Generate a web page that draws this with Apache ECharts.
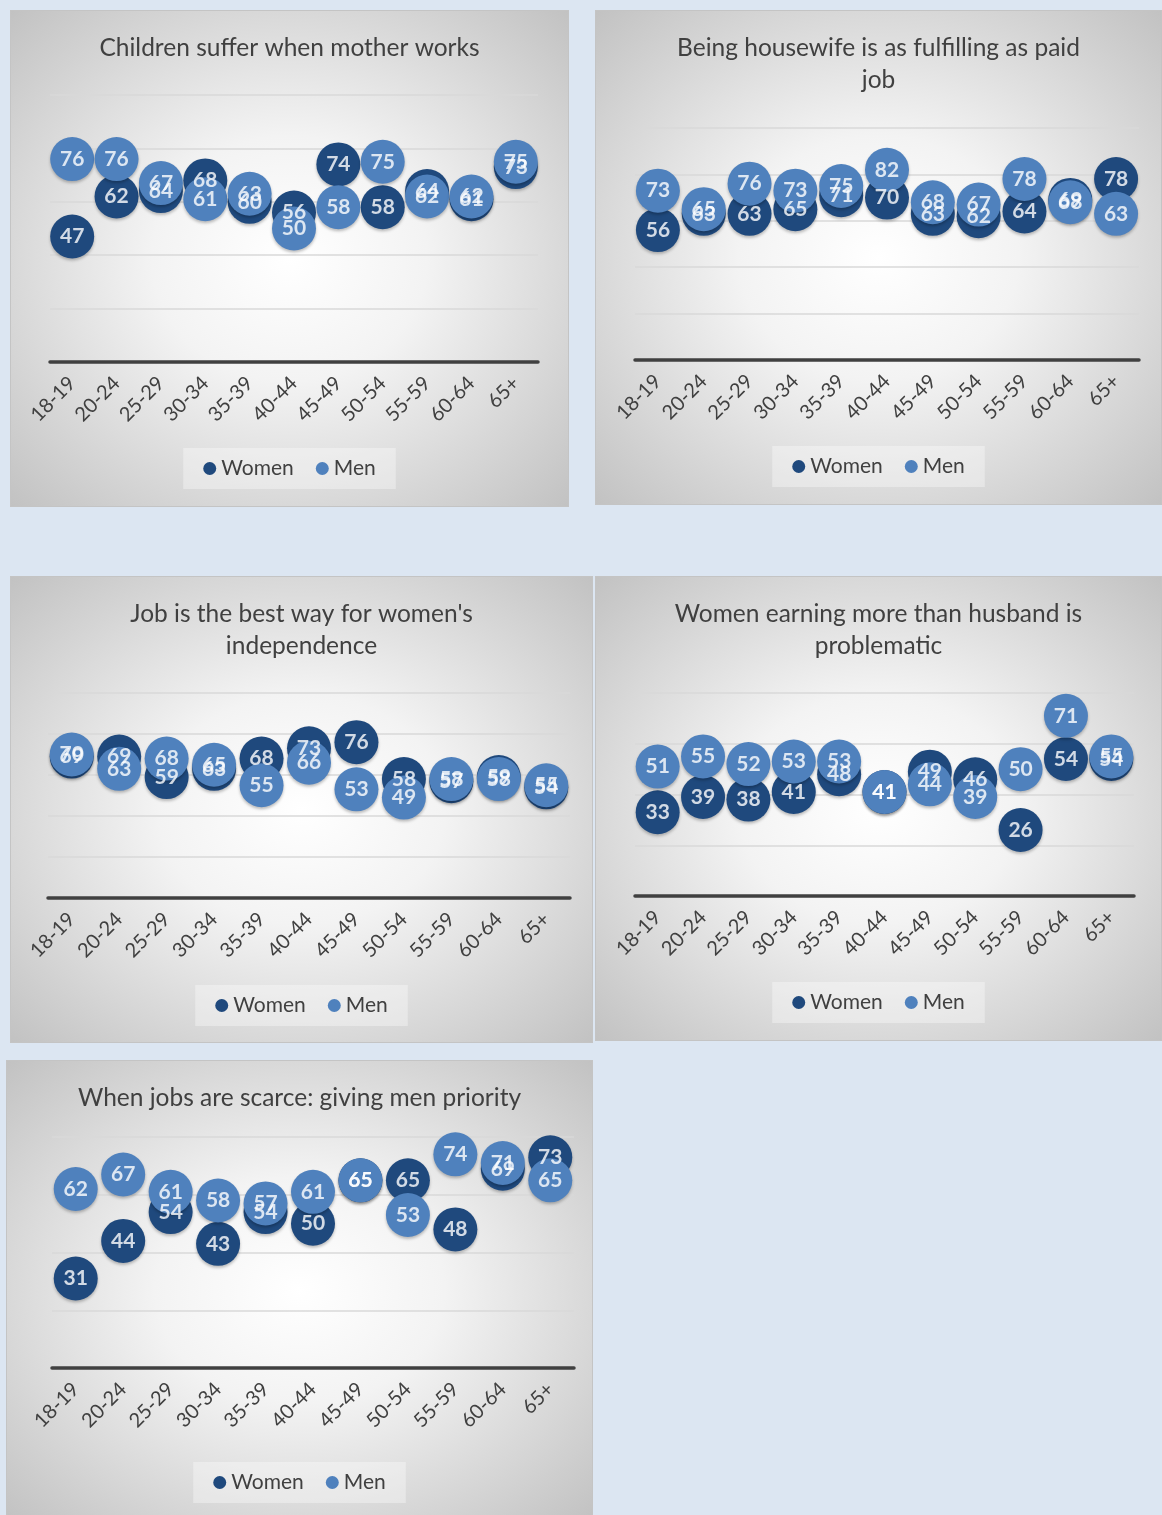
<!DOCTYPE html>
<html>
<head>
<meta charset="utf-8">
<script src="https://cdn.jsdelivr.net/npm/echarts@6/dist/echarts.min.js"></script>
<style>
  html, body { margin: 0; padding: 0; }
  body { width: 1162px; height: 1515px; background: #dce6f2; position: relative; overflow: hidden; }
  .panel {
    position: absolute;
    box-sizing: border-box;
    border: 1px solid #c4c4c4;
    background: radial-gradient(ellipse farthest-corner at 50% 50%, #ffffff 0%, #f3f3f3 35%, #c2c2c2 100%);
  }
</style>
</head>
<body>
<div id="c1" class="panel" style="left:10px;top:10px;width:559px;height:497px"></div>
<div id="c2" class="panel" style="left:595px;top:10px;width:567px;height:495px"></div>
<div id="c3" class="panel" style="left:10px;top:576px;width:583px;height:467px"></div>
<div id="c4" class="panel" style="left:595px;top:576px;width:567px;height:465px"></div>
<div id="c5" class="panel" style="left:6px;top:1060px;width:587px;height:460px"></div>
<script>
const ages = ['18-19', '20-24', '25-29', '30-34', '35-39', '40-44', '45-49', '50-54', '55-59', '60-64', '65+']

// Children suffer when mother works
const sufferWomen = [47, 62, 64, 68, 60, 56, 74, 58, 64, 61, 73]
const sufferMen = [76, 76, 67, 61, 63, 50, 58, 75, 62, 62, 75]

// Being housewife is as fulfilling as paid job
const housewifeWomen = [56, 63, 63, 65, 71, 70, 63, 62, 64, 69, 78]
const housewifeMen = [73, 65, 76, 73, 75, 82, 68, 67, 78, 68, 63]

// Job is the best way for women's independence
const jobWomen = [69, 69, 59, 63, 68, 73, 76, 58, 57, 59, 54]
const jobMen = [70, 63, 68, 65, 55, 66, 53, 49, 58, 58, 55]

// Women earning more than husband is problematic
const earningWomen = [33, 39, 38, 41, 48, 41, 49, 46, 26, 54, 54]
const earningMen = [51, 55, 52, 53, 53, 41, 44, 39, 50, 71, 55]

// When jobs are scarce: giving men priority
const scarceWomen = [31, 44, 54, 43, 54, 50, 65, 65, 48, 69, 73]
const scarceMen = [62, 67, 61, 58, 57, 61, 65, 53, 74, 71, 65]

const FONT = 'Lato, "Open Sans", sans-serif'
const WOMEN_COLOR = '#1f497d'
const MEN_COLOR = '#4f81bd'

function circles(name, data, color, z) {
  return {
    name: name,
    type: 'scatter',
    data: data,
    symbol: 'circle',
    symbolSize: 44,
    z: z,
    itemStyle: {
      color: color,
      opacity: 1,
      shadowColor: 'rgba(0,0,0,0.25)',
      shadowBlur: 3,
      shadowOffsetY: 2
    },
    label: { show: false }
  }
}

// labels sit above every circle, like the original
function labels(data, z) {
  return {
    type: 'scatter',
    data: data,
    symbolSize: 0,
    silent: true,
    z: z,
    label: {
      show: true,
      position: 'inside',
      color: '#ffffff',
      fontFamily: FONT,
      fontWeight: 'bold',
      fontSize: 21
    }
  }
}

function makeChart(id, title, women, men, max, grid, titleTop, legendBottom) {
  const chart = echarts.init(document.getElementById(id))
  chart.setOption({
    backgroundColor: 'transparent',
    animation: false,
    title: {
      text: title,
      left: 'center',
      top: titleTop,
      textStyle: {
        fontFamily: FONT,
        fontWeight: 'normal',
        fontSize: 24.5,
        color: '#404040',
        lineHeight: 32
      }
    },
    legend: {
      data: ['Women', 'Men'],
      bottom: legendBottom,
      left: 'center',
      icon: 'circle',
      itemWidth: 13,
      itemHeight: 13,
      itemGap: 22,
      padding: [10, 20],
      backgroundColor: 'rgba(255,255,255,0.35)',
      textStyle: { fontFamily: FONT, fontSize: 21, color: '#404040' }
    },
    grid: grid,
    xAxis: {
      type: 'category',
      data: ages,
      boundaryGap: true,
      axisLine: { lineStyle: { color: '#404040', width: 3.5 } },
      axisTick: { show: false },
      axisLabel: {
        rotate: 45,
        margin: 18,
        fontFamily: FONT,
        fontSize: 20,
        color: '#404040',
        interval: 0
      }
    },
    yAxis: {
      type: 'value',
      min: 0,
      max: max,
      interval: 20,
      axisLine: { show: false },
      axisTick: { show: false },
      axisLabel: { show: false },
      splitLine: { lineStyle: { color: '#d9d9d9', width: 1.5 } }
    },
    series: [
      circles('Women', women, WOMEN_COLOR, 2),
      circles('Men', men, MEN_COLOR, 3),
      labels(women, 10),
      labels(men, 11)
    ]
  })
  return chart
}

makeChart('c1', 'Children suffer when mother works', sufferWomen, sufferMen, 100,
  { left: 39, right: 30, top: 84, bottom: 144 }, 16, 17)
makeChart('c2', 'Being housewife is as fulfilling as paid\njob', housewifeWomen, housewifeMen, 100,
  { left: 39, right: 22, top: 117, bottom: 144 }, 16, 17)
makeChart('c3', 'Job is the best way for women\'s\nindependence', jobWomen, jobMen, 100,
  { left: 37, right: 22, top: 116, bottom: 144 }, 16, 16)
makeChart('c4', 'Women earning more than husband is\nproblematic', earningWomen, earningMen, 80,
  { left: 39, right: 27, top: 116, bottom: 144 }, 16, 17)
makeChart('c5', 'When jobs are scarce: giving men priority', scarceWomen, scarceMen, 80,
  { left: 45, right: 18, top: 76, bottom: 151 }, 16, 16)
</script>
</body>
</html>
